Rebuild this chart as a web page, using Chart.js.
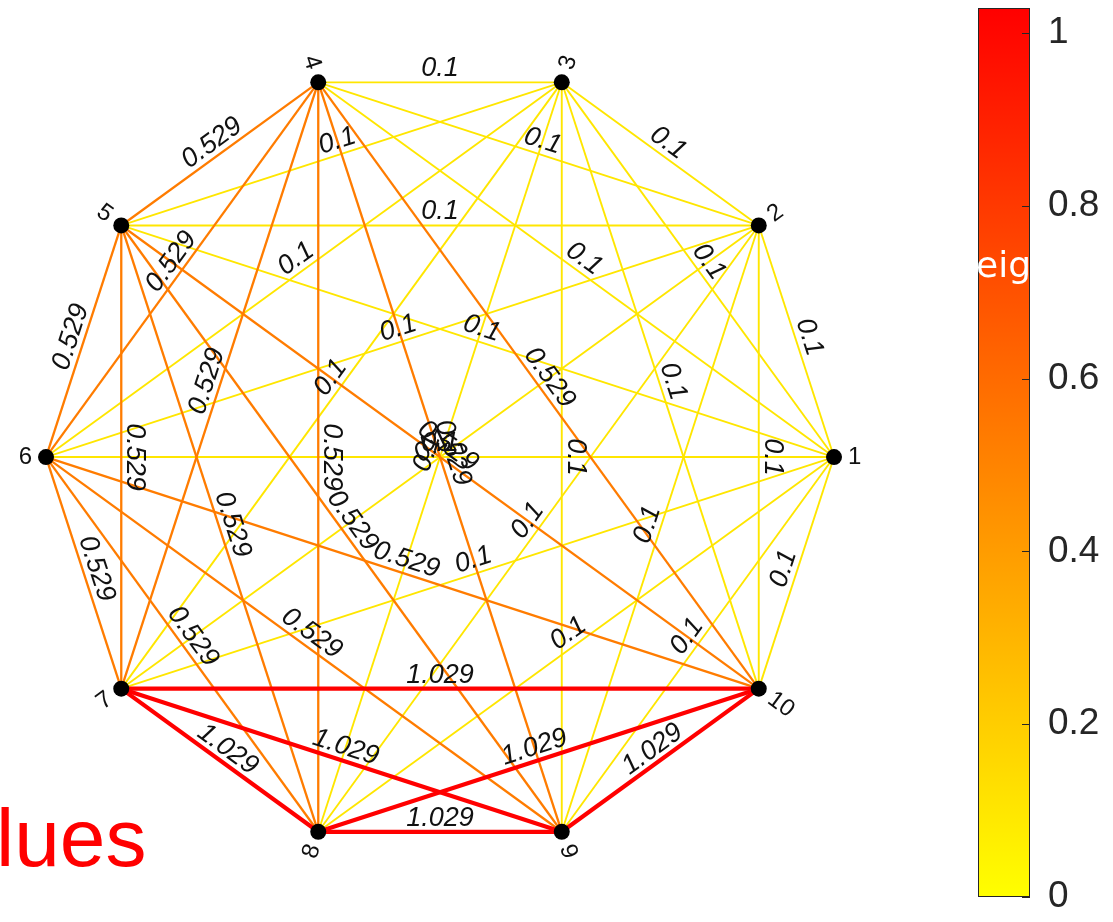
<!DOCTYPE html>
<html>
<head>
<meta charset="utf-8">
<title>Weighted graph</title>
<script src="https://cdn.jsdelivr.net/npm/chart.js@4.4.1/dist/chart.umd.min.js"></script>
<style>
  html, body { margin: 0; padding: 0; background: #fff; }
  #wrap { position: relative; width: 1113px; height: 922px; overflow: hidden; }
  #graphBox { position: absolute; left: 0; top: 0; width: 960px; height: 922px; }
  #barBox { position: absolute; left: 960px; top: 0; width: 153px; height: 922px; }
</style>
</head>
<body>
<div id="wrap">
  <div id="graphBox"><canvas id="graph" width="960" height="922"></canvas></div>
  <div id="barBox"><canvas id="cbar" width="153" height="922"></canvas></div>
</div>
<script>
// graph data: 10 nodes, complete graph, one weight per edge
const nodeNames = ['1', '2', '3', '4', '5', '6', '7', '8', '9', '10'];
const edgeSource = [1, 1, 1, 1, 1, 1, 1, 1, 1,
                    2, 2, 2, 2, 2, 2, 2, 2,
                    3, 3, 3, 3, 3, 3, 3,
                    4, 4, 4, 4, 4, 4,
                    5, 5, 5, 5, 5,
                    6, 6, 6, 6,
                    7, 7, 7,
                    8, 8,
                    9];
const edgeTarget = [2, 3, 4, 5, 6, 7, 8, 9, 10,
                    3, 4, 5, 6, 7, 8, 9, 10,
                    4, 5, 6, 7, 8, 9, 10,
                    5, 6, 7, 8, 9, 10,
                    6, 7, 8, 9, 10,
                    7, 8, 9, 10,
                    8, 9, 10,
                    9, 10,
                    10];
const edgeWeight = [0.1, 0.1, 0.1, 0.1, 0.1, 0.1, 0.1, 0.1, 0.1,
                    0.1, 0.1, 0.1, 0.1, 0.1, 0.1, 0.1, 0.1,
                    0.1, 0.1, 0.1, 0.1, 0.1, 0.1, 0.1,
                    0.529, 0.529, 0.529, 0.529, 0.529, 0.529,
                    0.529, 0.529, 0.529, 0.529, 0.529,
                    0.529, 0.529, 0.529, 0.529,
                    1.029, 1.029, 1.029,
                    1.029, 1.029,
                    1.029];
const colorLimits = [0, 1.029];
const colorbarStep = 0.2;

const FONT = '"Liberation Sans", Arial, Helvetica, sans-serif';

// yellow -> red (flipped autumn)
function weightColor(w) {
  const f = Math.min(1, Math.max(0, (w - colorLimits[0]) / (colorLimits[1] - colorLimits[0])));
  return `rgb(255,${Math.round(255 * (1 - f))},0)`;
}
function weightWidth(w) {
  if (w < 0.3) return 1.9;
  if (w < 0.8) return 2.3;
  return 4.2;
}

// circle layout, node 1 at 3 o'clock, counter-clockwise
const nodePos = nodeNames.map((_, k) => {
  const a = 2 * Math.PI * k / nodeNames.length;
  return { x: Math.cos(a), y: Math.sin(a), a };
});

const edgeSets = edgeSource.map((s, i) => ({
  data: [nodePos[s - 1], nodePos[edgeTarget[i] - 1]].map(p => ({ x: p.x, y: p.y })),
  showLine: true,
  pointRadius: 0,
  borderColor: weightColor(edgeWeight[i]),
  borderWidth: weightWidth(edgeWeight[i]),
  order: edgeSource.length - i
}));

const nodeSet = {
  data: nodePos.map(p => ({ x: p.x, y: p.y })),
  pointRadius: 8,
  pointBackgroundColor: '#000',
  pointBorderWidth: 0,
  order: -1
};

const graphText = {
  id: 'graphText',
  afterDatasetsDraw(chart) {
    const { ctx, scales: { x, y } } = chart;
    ctx.save();

    // edge labels, rotated along the edge, sitting on its midpoint
    ctx.font = 'italic 27px ' + FONT;
    ctx.fillStyle = '#111';
    ctx.textAlign = 'center';
    ctx.textBaseline = 'bottom';
    edgeSource.forEach((s, i) => {
      const a = nodePos[s - 1], b = nodePos[edgeTarget[i] - 1];
      const x1 = x.getPixelForValue(a.x), y1 = y.getPixelForValue(a.y);
      const x2 = x.getPixelForValue(b.x), y2 = y.getPixelForValue(b.y);
      let ang = Math.atan2(y2 - y1, x2 - x1);
      if (ang > Math.PI / 2 + 1e-6) ang -= Math.PI;
      else if (ang <= -Math.PI / 2 + 1e-6) ang += Math.PI;
      ctx.save();
      ctx.translate((x1 + x2) / 2, (y1 + y2) / 2);
      ctx.rotate(ang);
      ctx.fillText(String(edgeWeight[i]), 0, 0);
      ctx.restore();
    });

    // node labels, radial
    ctx.font = '24px ' + FONT;
    ctx.textBaseline = 'middle';
    nodePos.forEach((p, k) => {
      const px = x.getPixelForValue(p.x), py = y.getPixelForValue(p.y);
      const c = Math.cos(p.a), s = Math.sin(p.a);
      const lx = px + 14 * c, ly = py - 14 * s;
      ctx.save();
      ctx.translate(lx, ly);
      if (c > -1e-6) {
        ctx.textAlign = 'left';
        ctx.rotate(-p.a);
      } else {
        ctx.textAlign = 'right';
        ctx.rotate(Math.PI - p.a);
      }
      ctx.fillText(nodeNames[k], 0, 0);
      ctx.restore();
    });

    ctx.font = '82px ' + FONT;
    ctx.fillStyle = '#ff0000';
    ctx.textAlign = 'left';
    ctx.textBaseline = 'alphabetic';
    ctx.fillText('lues', -4, 866);
    ctx.restore();
  }
};

new Chart(document.getElementById('graph'), {
  type: 'scatter',
  data: { datasets: [...edgeSets, nodeSet] },
  options: {
    responsive: false,
    animation: false,
    layout: { padding: 0, autoPadding: false },
    plugins: { legend: { display: false }, tooltip: { enabled: false } },
    scales: {
      x: { type: 'linear', display: false, min: -1.1168, max: 1.3198 },
      y: { type: 'linear', display: false, min: -1.180, max: 1.160 }
    }
  },
  plugins: [graphText]
});

// colorbar
const colorbarExtras = {
  id: 'colorbarExtras',
  afterDatasetsDraw(chart) {
    const { ctx, chartArea: a, scales: { y } } = chart;
    ctx.save();
    ctx.strokeStyle = '#262626';
    ctx.lineWidth = 1;
    ctx.strokeRect(a.left + 0.5, a.top + 0.5, a.right - a.left - 1, a.bottom - a.top - 1);
    y.ticks.forEach(t => {
      const py = Math.round(y.getPixelForValue(t.value)) + 0.5;
      ctx.beginPath();
      ctx.moveTo(a.right - 8, py);
      ctx.lineTo(a.right, py);
      ctx.stroke();
    });
    ctx.font = '36px "DejaVu Sans", sans-serif';
    ctx.fillStyle = '#fff';
    ctx.textBaseline = 'alphabetic';
    ctx.fillText('eig', a.left - 2, 277);
    ctx.restore();
  }
};

new Chart(document.getElementById('cbar'), {
  type: 'bar',
  data: {
    labels: [''],
    datasets: [{
      data: [colorLimits[1]],
      base: colorLimits[0],
      backgroundColor(c) {
        const { chart } = c;
        const a = chart.chartArea;
        if (!a) return weightColor(colorLimits[1]);
        const y = chart.scales.y;
        const g = chart.ctx.createLinearGradient(0, y.getPixelForValue(colorLimits[0]), 0, y.getPixelForValue(colorLimits[1]));
        g.addColorStop(0, weightColor(colorLimits[0]));
        g.addColorStop(0.5, weightColor((colorLimits[0] + colorLimits[1]) / 2));
        g.addColorStop(1, weightColor(colorLimits[1]));
        return g;
      },
      borderWidth: 0,
      barPercentage: 1,
      categoryPercentage: 1
    }]
  },
  options: {
    responsive: false,
    animation: false,
    layout: { padding: { left: 18, top: 8, bottom: 25, right: 0 }, autoPadding: false },
    plugins: { legend: { display: false }, tooltip: { enabled: false } },
    scales: {
      x: { display: false },
      y: {
        position: 'right',
        min: colorLimits[0],
        max: colorLimits[1],
        grid: { drawOnChartArea: false, drawTicks: false },
        border: { display: false },
        ticks: {
          stepSize: colorbarStep,
          includeBounds: false,
          padding: 18,
          color: '#262626',
          font: { size: 37, family: FONT },
          callback: v => String(Number(v.toFixed(3)))
        },
        afterFit(s) {
          s.width = 83;
          s.paddingTop = 0;
          s.paddingBottom = 0;
        }
      }
    }
  },
  plugins: [colorbarExtras]
});
</script>
</body>
</html>
